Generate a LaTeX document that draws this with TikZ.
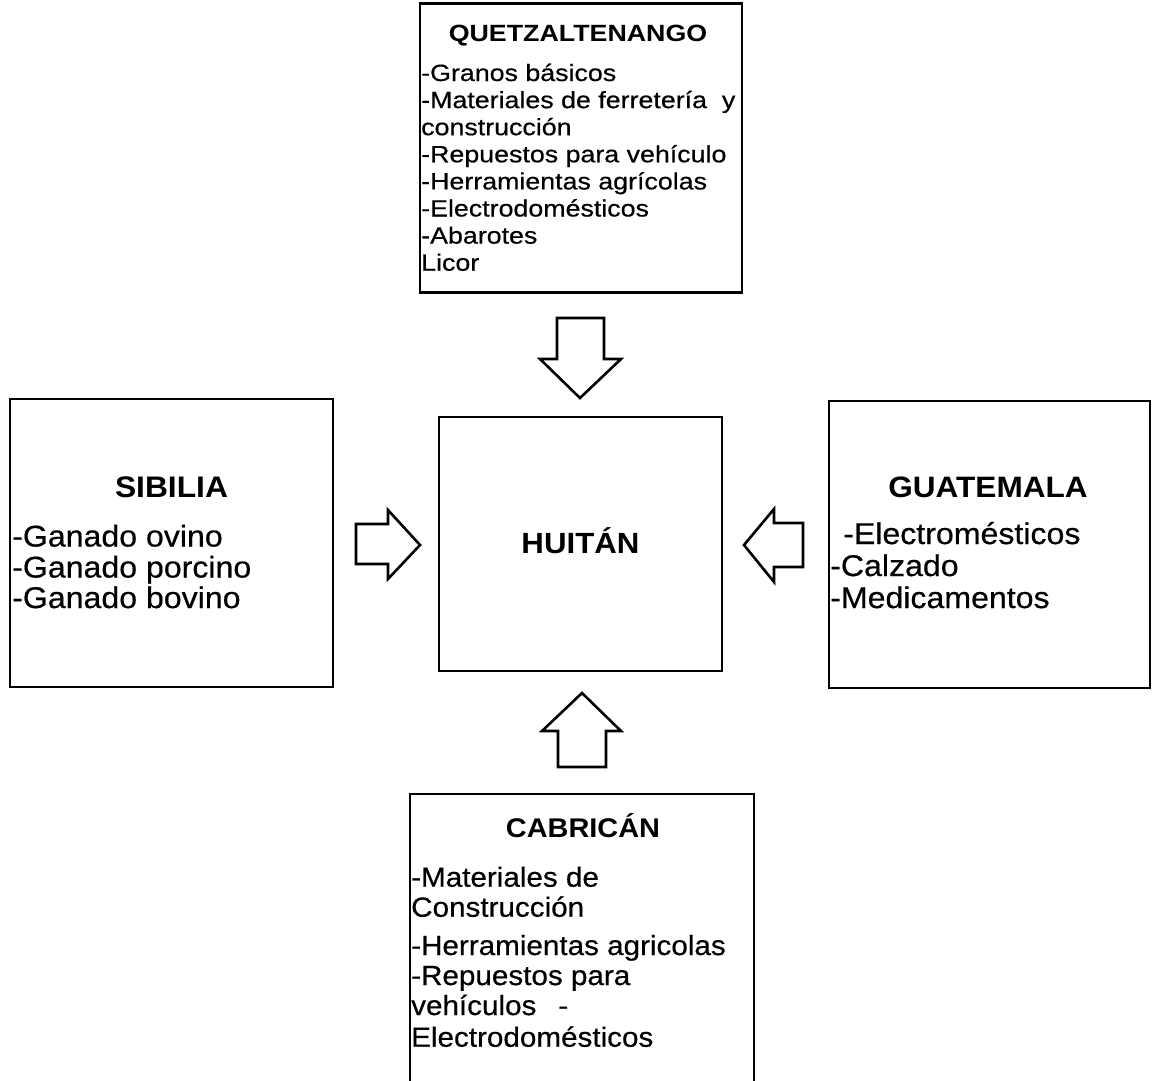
\documentclass[tikz,border=0pt]{standalone}
\usepackage{fontspec}
\setmainfont{Liberation Sans}
\newfontfamily\topfont{Liberation Sans}[FakeStretch=1.14,UprightFeatures={FakeBold=0.5}]
\newfontfamily\sidefont{Liberation Sans}[FakeStretch=1.07,UprightFeatures={FakeBold=0.5}]
\begin{document}
\begin{tikzpicture}[x=1pt,y=-1pt,
  box/.style={draw=black,line width=2.6pt,fill=none,inner sep=0pt},
  blockarrow/.style={draw=black,line width=2.6pt,line join=miter,fill=white},
  txt/.style={inner sep=0pt,anchor=base west},
  ttl/.style={inner sep=0pt,anchor=base,font=\bfseries}]
\clip (0,0) rectangle (1155,1080);
\fill[white] (0,0) rectangle (1155,1080);

% boxes
\node[box,minimum width=322pt,minimum height=289pt] (Q) at (581,148) {};
\node[box,minimum width=323pt,minimum height=288pt] (S) at (171.5,543) {};
\node[box,minimum width=321pt,minimum height=287pt] (G) at (989.5,544.5) {};
\node[box,minimum width=283pt,minimum height=254pt] (H) at (580.5,544) {};
\node[box,minimum width=344pt,minimum height=300pt] (C) at (582,944) {};

% QUETZALTENANGO
\node[ttl,font=\topfont\bfseries\fontsize{23.5}{27}\selectfont] (qt) at (578,41) {QUETZALTENANGO};
\foreach \t [count=\i] in {-Granos básicos,-Materiales de ferretería\ \ y,construcción,-Repuestos para vehículo,-Herramientas agrícolas,-Electrodomésticos,-Abarotes,Licor}
  \node[txt,font=\topfont\fontsize{23.5}{27}\selectfont] (q\i) at (421,{81+27.1*(\i-1)}) {\t};

% SIBILIA
\node[ttl,font=\sidefont\bfseries\fontsize{29.7}{33}\selectfont] (st) at (171.5,497) {SIBILIA};
\foreach \t/\y [count=\i] in {-Ganado ovino/546.5,-Ganado porcino/577.5,-Ganado bovino/608}
  \node[txt,font=\sidefont\fontsize{30}{33}\selectfont] (s\i) at (12,\y) {\t};

% GUATEMALA
\node[ttl,font=\sidefont\bfseries\fontsize{29.5}{33}\selectfont] (gt) at (988,497) {GUATEMALA};
\node[txt,font=\sidefont\fontsize{30}{33}\selectfont] (g1) at (843,544) {-Electromésticos};
\node[txt,font=\sidefont\fontsize{30}{33}\selectfont] (g2) at (830,576) {-Calzado};
\node[txt,font=\sidefont\fontsize{30}{33}\selectfont] (g3) at (830,608) {-Medicamentos};

% HUITÁN
\node[ttl,font=\sidefont\bfseries\fontsize{29.2}{33}\selectfont] (ht) at (580.5,553) {HUITÁN};

% CABRICÁN
\node[ttl,font=\sidefont\bfseries\fontsize{27}{30}\selectfont] (ct) at (583,837) {CABRICÁN};
\foreach \t/\y [count=\i] in {-Materiales de/886.7,Construcción/916.7,-Herramientas agricolas/955,-Repuestos para/985,vehículos\hspace{22pt}-/1015,Electrodomésticos/1046.7}
  \node[txt,font=\sidefont\fontsize{27.7}{30}\selectfont] (c\i) at (411,\y) {\t};

% block arrows pointing into HUITÁN
\coordinate (aT) at (580,398);
\coordinate (aL) at (420,545);
\coordinate (aR) at (744,545);
\coordinate (aB) at (582,693);
\draw[blockarrow] (aT) -- ++(-40,-39) -- ++(17,0) -- ++(0,-41) -- ++(47,0) -- ++(0,41) -- ++(17,0) -- cycle;
\draw[blockarrow] (aL) -- ++(-32,-35) -- ++(0,14) -- ++(-32,0) -- ++(0,40) -- ++(32,0) -- ++(0,15) -- cycle;
\draw[blockarrow] (aR) -- ++(30,-36) -- ++(0,14) -- ++(29,0) -- ++(0,44) -- ++(-29,0) -- ++(0,15) -- cycle;
\draw[blockarrow] (aB) -- ++(39,38) -- ++(-15,0) -- ++(0,36) -- ++(-48,0) -- ++(0,-36) -- ++(-16,0) -- cycle;
\end{tikzpicture}
\end{document}
